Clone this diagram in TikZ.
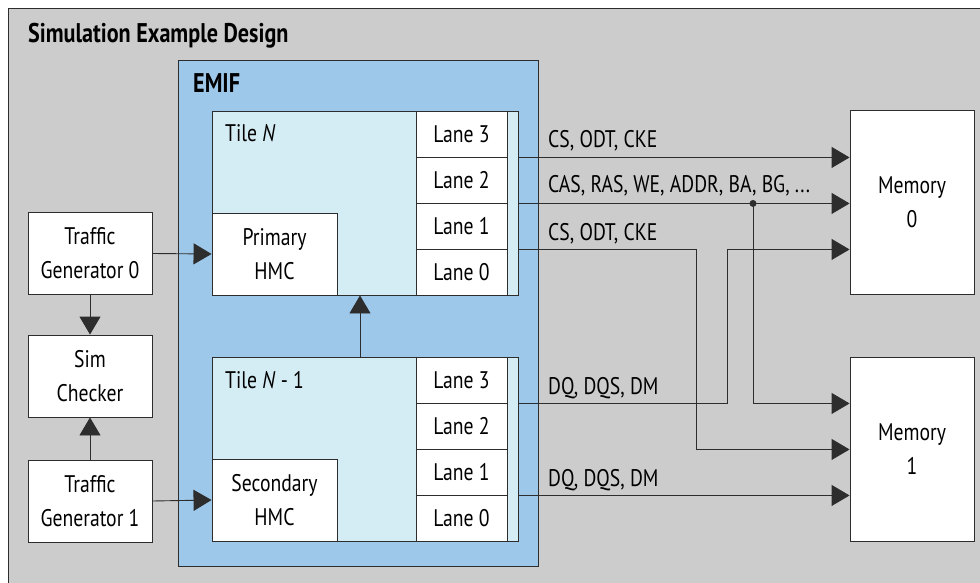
\documentclass[tikz,border=0pt]{standalone}
\usepackage{fontspec}
\setmainfont{PT Sans}[FakeStretch=0.82]
\usetikzlibrary{arrows.meta,calc}
\definecolor{outerbg}{RGB}{204,204,204}
\definecolor{emifbg}{RGB}{158,200,234}
\definecolor{tilebg}{RGB}{212,236,243}
\definecolor{linec}{RGB}{45,45,45}
\begin{document}
\begin{tikzpicture}[x=1pt,y=-1pt,
  txt/.style={font=\fontsize{24}{34}\selectfont},
  ttl/.style={font=\fontsize{27}{30}\selectfont\bfseries, anchor=base west, inner sep=0pt},
  frame/.style={draw=linec, line width=0.9pt, inner sep=0pt},
  box/.style={frame, fill=white, align=center, txt},
  lane/.style={box, minimum width=91pt, minimum height=46pt},
  tile/.style={frame, fill=tilebg, minimum width=306pt, minimum height=184pt},
  hmc/.style={box, minimum width=125pt, minimum height=82pt},
  side/.style={box, minimum width=124pt, minimum height=82pt},
  mem/.style={box, minimum width=124pt, minimum height=184pt},
  sig/.style={draw=linec, line width=0.9pt, -{Triangle[length=18pt,width=21pt]}},
  lbl/.style={txt, anchor=base west, inner sep=0pt}
]
\useasboundingbox (0,0) rectangle (980,583);
% containers
\node[frame, fill=outerbg, minimum width=982pt, minimum height=587pt] (outer) at (499,301.5) {};
\node[ttl] (outerT) at (28,43) {Simulation Example Design};
\node[frame, fill=emifbg, minimum width=360pt, minimum height=506pt] (emif) at (358,313) {};
\node[ttl] (emifT) at (193,93) {EMIF};
% tiles
\node[tile] (tileN) at (365,203) {};
\node[tile] (tileM) at (365,449) {};
\node[lbl] (tileNT) at (225,142) {Tile \textit{N}};
\node[lbl] (tileMT) at (225,388) {Tile \textit{N} - 1};
% lanes
\node[lane] (a3) at (461.5,134) {Lane 3};
\node[lane] (a2) at (461.5,180) {Lane 2};
\node[lane] (a1) at (461.5,226) {Lane 1};
\node[lane] (a0) at (461.5,272) {Lane 0};
\node[lane] (b3) at (461.5,380) {Lane 3};
\node[lane] (b2) at (461.5,426) {Lane 2};
\node[lane] (b1) at (461.5,472) {Lane 1};
\node[lane] (b0) at (461.5,518) {Lane 0};
% HMCs
\node[hmc] (phmc) at (274.5,254) {Primary\\HMC};
\node[hmc] (shmc) at (274.5,500) {Secondary\\HMC};
% left blocks
\node[side] (tg0) at (90,253.5) {Traffic\\Generator 0};
\node[side] (sim) at (90,376) {Sim\\Checker};
\node[side] (tg1) at (90,501) {Traffic\\Generator 1};
% memories
\node[mem] (mem0) at (912,202.5) {Memory\\0};
\node[mem] (mem1) at (912,449) {Memory\\1};
% left connectors
\draw[sig] (tg0.east) -- (phmc.west);
\draw[sig] (tg1.east) -- (shmc.west);
\draw[sig] (tg0.south) -- (sim.north);
\draw[sig] (tg1.north) -- (sim.south);
\draw[sig] (tileM.north -| 360,0) -- (tileN.south -| 360,0);
% routing coordinates
\coordinate (xa) at (696,0);
\coordinate (xb) at (727,0);
\coordinate (xc) at (753,0);
% signals
\draw[sig] (tileN.east |- a3.south) -- (mem0.west |- a3.south);
\node[lbl] (l1) at (548,148) {CS, ODT, CKE};
\draw[sig] (tileN.east |- a2.south) -- (mem0.west |- a2.south);
\node[lbl] (l2) at (548,192) {CAS, RAS, WE, ADDR, BA, BG, ...};
\coordinate (dot) at (xc |- a2.south);
\fill[linec] (dot) circle (3.5pt);
\draw[sig] (dot) -- (xc |- b3.south) -- (mem1.west |- b3.south);
\draw[sig] (tileN.east |- a1.south) -- (xa |- a1.south) -- (xa |- b2.south) -- (mem1.west |- b2.south);
\node[lbl] (l3) at (548,240) {CS, ODT, CKE};
\draw[sig] (tileM.east |- b3.south) -- (xb |- b3.south) -- (xb |- a1.south) -- (mem0.west |- a1.south);
\node[lbl] (l4) at (548,394) {DQ, DQS, DM};
\draw[sig] (tileM.east |- b1.south) -- (mem1.west |- b1.south);
\node[lbl] (l5) at (548,486) {DQ, DQS, DM};
\end{tikzpicture}
\end{document}
